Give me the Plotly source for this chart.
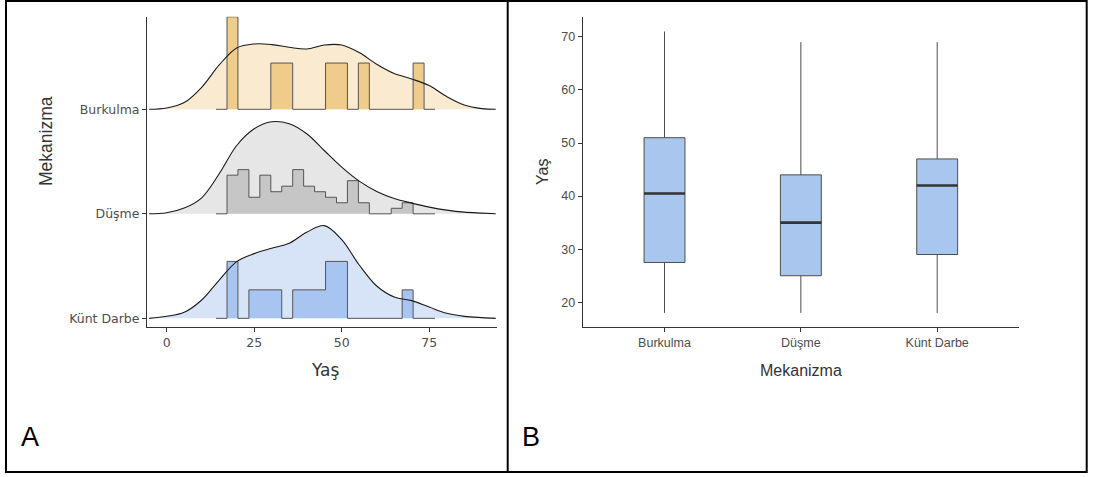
import plotly.graph_objects as go

# ---------------- data: panel A (ridgeline: density + histogram) ----------------
RIDGE_CATEGORIES = ["Künt Darbe", "Düşme", "Burkulma"]   # bottom -> top
AGE_TICKS = [0, 25, 50, 75]

# density curves (relative heights) on a common age grid
DENS_X = [-5, 0, 5, 10, 15, 20, 25, 30, 35, 40, 45, 50, 55, 60, 65, 70, 75, 80, 85, 90, 94]
DENS_KUNT = [0, 2, 6, 18.3, 38.3, 56.7, 64.7, 70, 75, 86, 92.7, 78.7, 53.3, 32.3, 21.3, 17.7, 11.3, 5, 2, 0.7, 0]
DENS_DUSME = [0, 1, 5.7, 16, 40, 68.3, 85, 92, 90, 80, 63.3, 46.7, 32.7, 22.3, 15.3, 10.7, 6.7, 3.7, 1.7, 0.7, 0]
DENS_BURKULMA = [0, 1.3, 6.7, 22, 44.3, 61.3, 65.3, 64.7, 62, 60.3, 64.3, 64.3, 56.7, 45, 35.7, 30.3, 23.7, 12.7, 4.3, 0.7, 0]

# histogram bins (incl. one empty padding bin on each side)
BIN_START = 14.1
BIN_WIDTH = 3.128
HIST_KUNT = [0, 2, 0, 1, 1, 1, 0, 1, 1, 1, 2, 2, 0, 0, 0, 0, 0, 1, 0, 0]
HIST_DUSME = [0, 7, 8, 3, 7, 4, 5, 8, 5, 4, 3, 2, 6, 2, 0, 0, 1, 2, 0, 0]
HIST_BURKULMA = [0, 2, 0, 0, 0, 1, 1, 0, 0, 0, 1, 1, 0, 1, 0, 0, 0, 0, 1, 0]

# ---------------- data: panel B (box plot) ----------------
BOX_CATEGORIES = ["Burkulma", "Düşme", "Künt Darbe"]
BOX_MIN = [18, 18, 18]
BOX_Q1 = [27.5, 25, 29]
BOX_MEDIAN = [40.5, 35, 42]
BOX_Q3 = [51, 44, 47]
BOX_MAX = [71, 69, 69]
B_Y_TICKS = [20, 30, 40, 50, 60, 70]

# ---------------- styling ----------------
W, H = 1094, 477
DENS_UNIT = 1 / 104.5        # relative height -> ridge units
HIST_SCALE = 3.54            # ridge units per fraction of group
RIDGE_STYLE = {
    "Burkulma": dict(dens="#FAEBD0", hist="#F0CC8C"),
    "Düşme": dict(dens="#E6E6E6", hist="#C6C6C6"),
    "Künt Darbe": dict(dens="#D7E4F7", hist="#A7C5F0"),
}
BOX_FILL = "#A9C7EE"
AX_COL = "#333333"
TXT_COL = "#4D4D4D"


def px(x):
    return x / W


def py(y):
    return 1 - y / H


fig = go.Figure()

ridge_data = {
    "Burkulma": (DENS_BURKULMA, HIST_BURKULMA),
    "Düşme": (DENS_DUSME, HIST_DUSME),
    "Künt Darbe": (DENS_KUNT, HIST_KUNT),
}

for name in ["Burkulma", "Düşme", "Künt Darbe"]:
    base = RIDGE_CATEGORIES.index(name)
    dens, hist = ridge_data[name]
    st = RIDGE_STYLE[name]
    n = sum(hist)
    dy = [base + v * DENS_UNIT for v in dens]
    # baseline for fill
    fig.add_trace(go.Scatter(x=[DENS_X[0], DENS_X[-1]], y=[base, base], mode="lines",
                             line=dict(width=0, color="rgba(0,0,0,0)"), hoverinfo="skip",
                             showlegend=False, xaxis="x", yaxis="y"))
    fig.add_trace(go.Scatter(x=DENS_X, y=dy, mode="lines", fill="tonexty", fillcolor=st["dens"],
                             line=dict(width=0, shape="spline", smoothing=1.0, color="rgba(0,0,0,0)"),
                             hoverinfo="skip", showlegend=False, xaxis="x", yaxis="y"))
    # histogram step outline
    hx = [BIN_START]
    hy = [base]
    for k, c in enumerate(hist):
        e0 = BIN_START + k * BIN_WIDTH
        e1 = e0 + BIN_WIDTH
        h = base + c / n * HIST_SCALE
        hx += [e0, e1]
        hy += [h, h]
    hx.append(BIN_START + len(hist) * BIN_WIDTH)
    hy.append(base)
    fig.add_trace(go.Scatter(x=hx, y=hy, mode="lines", fill="toself", fillcolor=st["hist"],
                             line=dict(width=1, color="#555555"), hoverinfo="skip",
                             showlegend=False, xaxis="x", yaxis="y"))
    # density line
    fig.add_trace(go.Scatter(x=DENS_X, y=dy, mode="lines",
                             line=dict(width=1.1, shape="spline", smoothing=1.0, color="#1A1A1A"),
                             hoverinfo="skip", showlegend=False, xaxis="x", yaxis="y"))

# ---------------- panel B ----------------
box_x = list(range(len(BOX_CATEGORIES)))
fig.add_trace(go.Box(x=box_x, q1=BOX_Q1, median=BOX_MEDIAN, q3=BOX_Q3,
                     lowerfence=BOX_MIN, upperfence=BOX_MAX, width=0.3,
                     fillcolor=BOX_FILL, line=dict(color="#4D4D4D", width=1),
                     whiskerwidth=0, boxpoints=False, hoverinfo="skip",
                     showlegend=False, xaxis="x2", yaxis="y2"))
mx, my = [], []
for i, m in zip(box_x, BOX_MEDIAN):
    mx += [i - 0.15, i + 0.15, None]
    my += [m, m, None]
fig.add_trace(go.Scatter(x=mx, y=my, mode="lines", line=dict(color="#333333", width=2.6),
                         hoverinfo="skip", showlegend=False, xaxis="x2", yaxis="y2"))

axis_common = dict(showline=True, linecolor=AX_COL, linewidth=1, ticks="outside",
                   ticklen=4, tickcolor=AX_COL, tickwidth=1, showgrid=False, zeroline=False,
                   fixedrange=True)

fig.update_layout(
    width=W, height=H,
    margin=dict(l=0, r=0, t=0, b=0),
    paper_bgcolor="white", plot_bgcolor="white",
    showlegend=False,
    xaxis=dict(domain=[px(147), px(497)], range=[-5.63, 94.37], tickvals=AGE_TICKS,
               tickfont=dict(family="DejaVu Sans", size=12.5, color=TXT_COL),
               anchor="y", **axis_common),
    yaxis=dict(domain=[py(327), py(16.7)], range=[-0.083, 2.886],
               tickvals=list(range(len(RIDGE_CATEGORIES))), ticktext=RIDGE_CATEGORIES,
               tickfont=dict(family="DejaVu Sans", size=12.5, color=TXT_COL),
               anchor="x", **axis_common),
    xaxis2=dict(domain=[px(582.7), px(1019)], range=[-0.6, 2.6], tickvals=box_x,
                ticktext=BOX_CATEGORIES,
                tickfont=dict(family="Liberation Sans", size=12.5, color=TXT_COL),
                anchor="y2", **axis_common),
    yaxis2=dict(domain=[py(327.3), py(16.7)], range=[15.29, 73.79], tickvals=B_Y_TICKS,
                tickfont=dict(family="Liberation Sans", size=12.5, color=TXT_COL),
                anchor="x2", **axis_common),
)

ann = [
    dict(text="Mekanizma", x=px(46), y=py(141), textangle=-90,
         font=dict(family="Liberation Sans", size=17.5, color=AX_COL)),
    dict(text="Yaş", x=px(325), y=py(370),
         font=dict(family="DejaVu Sans", size=17, color=AX_COL)),
    dict(text="Yaş", x=px(542), y=py(172), textangle=-90,
         font=dict(family="Liberation Sans", size=16, color=AX_COL)),
    dict(text="Mekanizma", x=px(801), y=py(370),
         font=dict(family="Liberation Sans", size=16, color=AX_COL)),
    dict(text="A", x=px(29.5), y=py(437),
         font=dict(family="Liberation Sans", size=27, color="black")),
    dict(text="B", x=px(530.5), y=py(437),
         font=dict(family="Liberation Sans", size=27, color="black")),
]
for a in ann:
    fig.add_annotation(xref="paper", yref="paper", showarrow=False,
                       xanchor="center", yanchor="middle", **a)

# panel borders
fig.add_shape(type="rect", xref="paper", yref="paper", x0=px(6), x1=px(1086.7),
              y0=py(472), y1=py(1), line=dict(color="black", width=2), fillcolor="rgba(0,0,0,0)")
fig.add_shape(type="line", xref="paper", yref="paper", x0=px(507.7), x1=px(507.7),
              y0=py(472), y1=py(1), line=dict(color="black", width=2))

fig.write_html("out.html", config={"displayModeBar": False},
               post_script="document.body.style.margin='0';document.body.style.padding='0';")
